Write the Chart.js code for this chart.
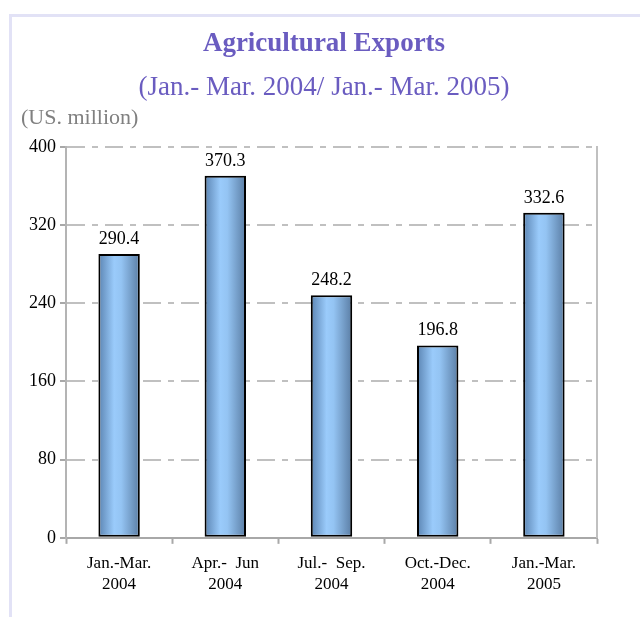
<!DOCTYPE html>
<html>
<head>
<meta charset="utf-8">
<script src="https://cdn.jsdelivr.net/npm/chart.js@4.4.1/dist/chart.umd.min.js"></script>
<style>
  html, body { margin: 0; padding: 0; background: #ffffff; }
  #wrap { position: relative; width: 640px; height: 617px; overflow: hidden; }
  #frame { position: absolute; left: 9px; top: 14px; width: 700px; height: 700px;
           border-left: 3px solid #e2e2f6; border-top: 3px solid #e2e2f6; }
  #unit { position: absolute; left: 21px; top: 104px; font-family: "Liberation Serif", "Times New Roman", serif;
          font-size: 22px; color: #808080; line-height: 1.2; }
  canvas { position: absolute; left: 0; top: 0; }
</style>
</head>
<body>
<div id="wrap">
  <div id="frame"></div>
  <canvas id="c" width="640" height="617"></canvas>
  <div id="unit">(US. million)</div>
</div>
<script>
const categories = [["Jan.-Mar.", "2004"], ["Apr.-  Jun", "2004"], ["Jul.-  Sep.", "2004"], ["Oct.-Dec.", "2004"], ["Jan.-Mar.", "2005"]];
const exportValues = [290.4, 370.3, 248.2, 196.8, 332.6];
const yTicks = [0, 80, 160, 240, 320, 400];
const titleText = "Agricultural Exports";
const subtitleText = "(Jan.- Mar. 2004/ Jan.- Mar. 2005)";

const SERIF = '"Liberation Serif", "Times New Roman", serif';
const BAR_PCT = 0.39;

function barGradient(ctx) {
  const chart = ctx.chart;
  const xs = chart.scales.x;
  if (!xs || ctx.dataIndex === undefined) return '#99ccff';
  const cx = xs.getPixelForValue(ctx.dataIndex);
  const w = (xs.width / categories.length) * BAR_PCT;
  if (!isFinite(cx) || !isFinite(w) || w <= 0) return '#99ccff';
  const g = chart.ctx.createLinearGradient(cx - w / 2, 0, cx + w / 2, 0);
  g.addColorStop(0, '#5b84b2');
  g.addColorStop(0.38, '#9acbfb');
  g.addColorStop(0.55, '#94c4f3');
  g.addColorStop(1, '#5a7da4');
  return g;
}

const valueLabels = {
  id: 'valueLabels',
  afterDatasetsDraw(chart) {
    const c = chart.ctx;
    const meta = chart.getDatasetMeta(0);
    c.save();
    c.font = '18px ' + SERIF;
    c.fillStyle = '#000';
    c.textAlign = 'center';
    c.textBaseline = 'alphabetic';
    meta.data.forEach((el, i) => {
      c.fillText(exportValues[i].toFixed(1), el.x, el.y - 10);
    });
    c.restore();
  }
};

new Chart(document.getElementById('c'), {
  type: 'bar',
  data: {
    labels: categories,
    datasets: [{
      data: exportValues,
      backgroundColor: barGradient,
      borderColor: '#000000',
      borderWidth: 2,
      borderSkipped: false,
      barPercentage: BAR_PCT,
      categoryPercentage: 1.0
    }]
  },
  options: {
    responsive: false,
    animation: false,
    devicePixelRatio: 1,
    layout: { padding: { left: 8, right: 0, top: 0, bottom: 13 } },
    plugins: {
      legend: { display: false },
      tooltip: { enabled: false },
      title: {
        display: true,
        text: titleText,
        color: '#6a5cc0',
        font: { family: SERIF, size: 27, weight: 'bold', lineHeight: 1.2 },
        padding: { top: 28, bottom: 11 }
      },
      subtitle: {
        display: true,
        text: subtitleText,
        color: '#6a5cc0',
        font: { family: SERIF, size: 27, lineHeight: 1.2 },
        padding: { top: 0, bottom: 43 }
      }
    },
    scales: {
      x: {
        grid: {
          offset: true,
          drawOnChartArea: false,
          drawTicks: true,
          tickLength: 6,
          tickColor: '#a8a8a8',
          tickWidth: 2
        },
        border: { display: true, color: '#a8a8a8', width: 2 },
        ticks: {
          color: '#000',
          font: { family: SERIF, size: 17, lineHeight: 1.24 },
          padding: 9,
          maxRotation: 0,
          autoSkip: false
        }
      },
      y: {
        min: 0,
        max: 400,
        afterBuildTicks(scale) { scale.ticks = yTicks.map(v => ({ value: v })); },
        afterFit(scale) { scale.width = 58; },
        grid: {
          color: (c) => (c.tick && c.tick.value === 0) ? 'rgba(0,0,0,0)' : '#c0c0c0',
          lineWidth: 2,
          drawTicks: true,
          tickLength: 6,
          tickColor: '#a8a8a8',
          tickWidth: 2,
          tickBorderDash: []
        },
        border: { display: true, color: '#b4b4b4', width: 2, dash: [18, 7, 6, 7] },
        ticks: {
          color: '#000',
          font: { family: SERIF, size: 18 },
          padding: 4
        }
      },
      y2: {
        position: 'right',
        min: 0,
        max: 400,
        afterFit(scale) { scale.width = 43; },
        grid: { drawOnChartArea: false, drawTicks: false },
        border: { display: true, color: '#c0c0c0', width: 2 },
        ticks: { display: false }
      }
    }
  },
  plugins: [valueLabels]
});
</script>
</body>
</html>
